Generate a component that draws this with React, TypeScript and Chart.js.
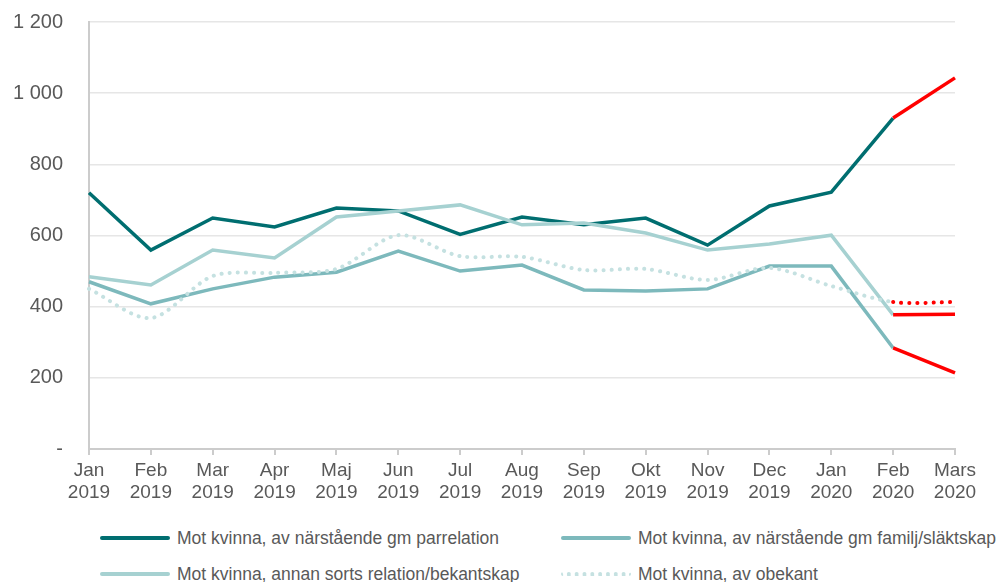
import React, { useEffect, useRef } from "react";
import { Chart, registerables } from "chart.js";
Chart.register(...registerables);

const months = ["Jan", "Feb", "Mar", "Apr", "Maj", "Jun", "Jul", "Aug", "Sep", "Okt", "Nov", "Dec", "Jan", "Feb", "Mars"];
const years = ["2019", "2019", "2019", "2019", "2019", "2019", "2019", "2019", "2019", "2019", "2019", "2019", "2020", "2020", "2020"];
const parrelation = [720, 559, 649, 624, 677, 669, 603, 652, 630, 649, 573, 683, 722, 930, 1043];
const familj = [470, 408, 450, 483, 497, 556, 500, 517, 447, 444, 450, 514, 514, 284, 214];
const annan = [484, 461, 559, 537, 652, 669, 686, 630, 635, 607, 559, 576, 601, 377, 379];
const obekant = [450, 368, 486, 495, 506, 601, 542, 540, 503, 506, 475, 509, 458, 413, 413];
const yTicks = [0, 200, 400, 600, 800, 1000, 1200];

const names = [
  "Mot kvinna, av närstående gm parrelation",
  "Mot kvinna, av närstående gm familj/släktskap",
  "Mot kvinna, annan sorts relation/bekantskap",
  "Mot kvinna, av obekant",
];
const colors = ["#006E70", "#7DB9BC", "#A6D1D1", "#C5E1E1"];
const RED = "#FF0000";
const FONT = "'Liberation Sans', Arial, sans-serif";
const TEXT = "#595959";

const redLast = (base: string) => (ctx: any) => (ctx.p0DataIndex === 13 ? RED : base);

export default function App() {
  const ref = useRef<HTMLCanvasElement>(null);
  useEffect(() => {
    const labels = months.map((m, i) => [m, years[i]]);
    const mk = (label: string, data: number[], color: string, dotted = false) => ({
      label,
      data,
      borderColor: color,
      backgroundColor: color,
      borderWidth: dotted ? 4 : 3.5,
      pointRadius: 0,
      tension: dotted ? 0.3 : 0,
      borderDash: dotted ? [0.1, 8] : [],
      borderCapStyle: dotted ? "round" : "butt",
      segment: { borderColor: redLast(color) },
    });
    const chart = new Chart(ref.current!, {
      type: "line",
      data: {
        labels,
        datasets: [
          mk(names[3], obekant, colors[3], true),
          mk(names[1], familj, colors[1]),
          mk(names[2], annan, colors[2]),
          mk(names[0], parrelation, colors[0]),
        ] as any,
      },
      options: {
        animation: false,
        responsive: false,
        layout: { padding: { top: 22, right: 42, left: 0, bottom: 0 } },
        plugins: { legend: { display: false }, tooltip: { enabled: false } },
        scales: {
          x: {
            offset: false,
            grid: { display: true, drawOnChartArea: false, drawTicks: true, tickLength: 6, color: "#cccccc", lineWidth: 2 } as any,
            border: { color: "#cccccc", width: 2 },
            ticks: { color: TEXT, font: { family: FONT, size: 19, lineHeight: 1.15 }, padding: 5, maxRotation: 0, autoSkip: false },
            afterFit: (s: any) => { s.height = 66; },
          },
          y: {
            min: 0,
            max: 1200,
            afterBuildTicks: (s: any) => { s.ticks = yTicks.map((v) => ({ value: v })); },
            grid: { color: "#e6e6e6", lineWidth: 1.5, drawTicks: false },
            border: { color: "#cccccc", width: 2 },
            ticks: {
              color: TEXT,
              font: { family: FONT, size: 20 },
              padding: 26,
              callback: (v: any) => (v === 0 ? "-" : String(v).replace(/\B(?=(\d{3})+(?!\d))/g, " ")),
            },
            afterFit: (s: any) => { s.width = 89; s.paddingTop = 0; s.paddingBottom = 0; },
          },
        },
      } as any,
    });
    return () => chart.destroy();
  }, []);

  const legendItem = (i: number, left: number, top: number) => (
    <div key={i} style={{ position: "absolute", left, top, display: "flex", alignItems: "center", height: 20 }}>
      <div
        style={{
          width: 70,
          height: 0,
          borderTop: i === 3 ? `4px dotted ${colors[i]}` : `4px solid ${colors[i]}`,
          borderRadius: 2,
          marginRight: 7,
        }}
      />
      <span style={{ fontFamily: FONT, fontSize: 17.5, color: TEXT, whiteSpace: "nowrap" }}>{names[i]}</span>
    </div>
  );

  return (
    <div style={{ position: "absolute", left: 0, top: 0, width: 997, height: 582, background: "#fff", overflow: "hidden" }}>
      <canvas ref={ref} width={997} height={515} style={{ display: "block" }} />
      {legendItem(0, 100, 528)}
      {legendItem(1, 561, 528)}
      {legendItem(2, 100, 564)}
      {legendItem(3, 561, 564)}
    </div>
  );
}
